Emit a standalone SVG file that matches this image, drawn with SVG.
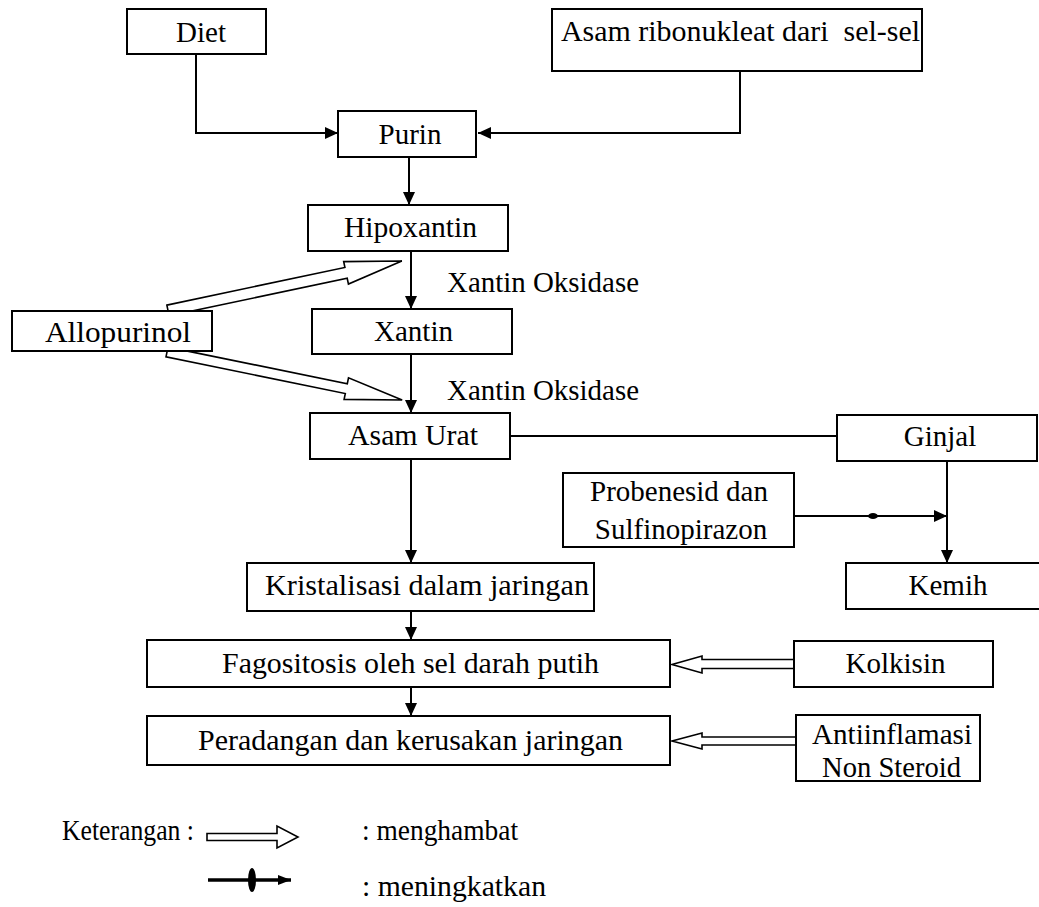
<svg xmlns="http://www.w3.org/2000/svg" width="1039" height="907" viewBox="0 0 1039 907">
<style>
.box{fill:#fff;stroke:#000;stroke-width:2}
.t{font-family:"Liberation Serif","Times New Roman",serif;font-size:29px;fill:#000}
.m{text-anchor:middle}
.ln{fill:none;stroke:#000;stroke-width:2}
.hollow{fill:#fff;stroke:#000;stroke-width:1.6;stroke-linejoin:miter}
</style>
<defs>
<marker id="ah" markerUnits="userSpaceOnUse" markerWidth="14" markerHeight="13" refX="13" refY="6" orient="auto">
<path d="M0,0 L13,6 L0,12 z" fill="#000"/>
</marker>
<marker id="ahs" markerUnits="userSpaceOnUse" markerWidth="14" markerHeight="11" refX="13" refY="5" orient="auto">
<path d="M0,0 L13,5 L0,10 z" fill="#000"/>
</marker>
</defs>
<rect width="1039" height="907" fill="#fff"/>

<g id="connectors">
<polyline class="ln" points="196,54 196,133 338,133" marker-end="url(#ah)"/>
<polyline class="ln" points="740,71 740,133 478,133" marker-end="url(#ah)"/>
<line class="ln" x1="409" y1="157" x2="409" y2="205" marker-end="url(#ah)"/>
<line class="ln" x1="411" y1="251" x2="411" y2="309" marker-end="url(#ah)"/>
<line class="ln" x1="411" y1="354" x2="411" y2="413" marker-end="url(#ah)"/>
<line class="ln" x1="510" y1="436" x2="837" y2="436"/>
<line class="ln" x1="947" y1="461" x2="947" y2="563" marker-end="url(#ah)"/>
<line class="ln" x1="794" y1="516" x2="947" y2="516" marker-end="url(#ah)"/>
<ellipse cx="873" cy="516" rx="5" ry="3" fill="#000"/>
<line class="ln" x1="411" y1="459" x2="411" y2="563" marker-end="url(#ah)"/>
<line class="ln" x1="411" y1="611" x2="411" y2="640" marker-end="url(#ah)"/>
<line class="ln" x1="411" y1="687" x2="411" y2="716" marker-end="url(#ah)"/>
<polygon class="hollow" transform="translate(168,310.5) rotate(-11.94)" points="0,-5.5 182,-5.5 182,-11.5 239,0 182,11.5 182,5.5 0,5.5"/>
<polygon class="hollow" transform="translate(167,352) rotate(11.54)" points="0,-5 183,-5 183,-11 240,0 183,11 183,5 0,5"/>
<polygon class="hollow" points="794,659.5 702,659.5 702,656 672,664.5 702,673 702,668.5 794,668.5"/>
<polygon class="hollow" points="796,737 702,737 702,733 672,741 702,749 702,745 796,745"/>
</g>

<g id="diet"><rect class="box" x="127" y="9" width="139" height="45"/><text class="t m" x="201" y="42">Diet</text></g>
<g id="asam-ribonukleat"><rect class="box" x="552" y="9" width="370" height="62"/><text class="t" x="561" y="41" textLength="359" lengthAdjust="spacingAndGlyphs" xml:space="preserve">Asam ribonukleat dari  sel-sel</text></g>
<g id="purin"><rect class="box" x="338" y="111" width="138" height="46"/><text class="t m" x="410" y="144">Purin</text></g>
<g id="hipoxantin"><rect class="box" x="308" y="205" width="200" height="46"/><text class="t m" x="410.5" y="237" textLength="133" lengthAdjust="spacingAndGlyphs">Hipoxantin</text></g>
<g id="label-xo1"><text class="t" x="447" y="292" textLength="192" lengthAdjust="spacingAndGlyphs">Xantin Oksidase</text></g>
<g id="allopurinol"><rect class="box" x="12" y="311" width="200" height="40"/><text class="t m" x="118" y="342" textLength="146" lengthAdjust="spacingAndGlyphs">Allopurinol</text></g>
<g id="xantin"><rect class="box" x="312" y="309" width="200" height="45"/><text class="t m" x="413.5" y="341">Xantin</text></g>
<g id="label-xo2"><text class="t" x="447" y="400" textLength="192" lengthAdjust="spacingAndGlyphs">Xantin Oksidase</text></g>
<g id="asam-urat"><rect class="box" x="310" y="413" width="200" height="46"/><text class="t m" x="413" y="445" textLength="130" lengthAdjust="spacingAndGlyphs">Asam Urat</text></g>
<g id="ginjal"><rect class="box" x="837" y="415" width="200" height="46"/><text class="t m" x="940" y="446">Ginjal</text></g>
<g id="probenesid"><rect class="box" x="563" y="473" width="231" height="74"/><text class="t m" x="679" y="501">Probenesid dan</text><text class="t m" x="681" y="539">Sulfinopirazon</text></g>
<g id="kemih"><rect class="box" x="846" y="563" width="200" height="46"/><text class="t m" x="948" y="595">Kemih</text></g>
<g id="kristalisasi"><rect class="box" x="247" y="563" width="347" height="48"/><text class="t m" x="427" y="595" textLength="324" lengthAdjust="spacingAndGlyphs">Kristalisasi dalam jaringan</text></g>
<g id="fagositosis"><rect class="box" x="147" y="640" width="523" height="47"/><text class="t m" x="410.5" y="673" textLength="377" lengthAdjust="spacingAndGlyphs">Fagositosis oleh sel darah putih</text></g>
<g id="kolkisin"><rect class="box" x="794" y="641" width="199" height="46"/><text class="t m" x="895.5" y="673">Kolkisin</text></g>
<g id="peradangan"><rect class="box" x="147" y="716" width="523" height="49"/><text class="t m" x="410.5" y="750" textLength="425" lengthAdjust="spacingAndGlyphs">Peradangan dan kerusakan jaringan</text></g>
<g id="ains"><rect class="box" x="796" y="715" width="184" height="66"/><text class="t m" x="892" y="744" textLength="160" lengthAdjust="spacingAndGlyphs">Antiinflamasi</text><text class="t m" x="891.5" y="777" textLength="139" lengthAdjust="spacingAndGlyphs">Non Steroid</text></g>

<g id="legend">
<text class="t" x="62" y="840" textLength="132" lengthAdjust="spacingAndGlyphs">Keterangan :</text>
<polygon class="hollow" points="207,833.5 277,833.5 277,826 298,837 277,848 277,840.5 207,840.5"/>
<text class="t" x="362" y="840" textLength="156" lengthAdjust="spacingAndGlyphs">: menghambat</text>
<line x1="208" y1="880" x2="291" y2="880" stroke="#000" stroke-width="3.5" marker-end="url(#ahs)"/>
<ellipse cx="252" cy="880" rx="4" ry="12" fill="#000"/>
<text class="t" x="362" y="896" textLength="184" lengthAdjust="spacingAndGlyphs">: meningkatkan</text>
</g>
</svg>
